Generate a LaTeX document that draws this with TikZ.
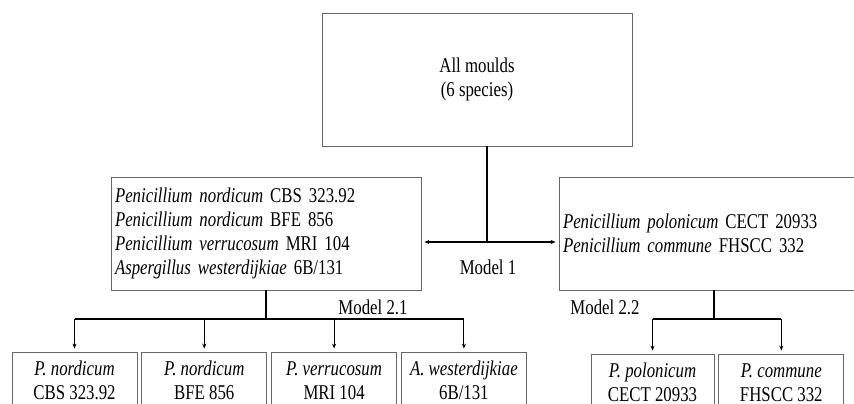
\documentclass[tikz,border=0pt]{standalone}
\usepackage{fontspec}
\setmainfont[FakeStretch=0.8]{Liberation Serif}
\usetikzlibrary{arrows.meta,calc,positioning}

\begin{document}
\begin{tikzpicture}[x=1pt,y=-1pt,
  box/.style={draw=black!60, line width=0.8pt, inner sep=3pt, font=\fontsize{21}{24}\selectfont},
  leaf/.style={box, minimum width=125pt, minimum height=57pt, align=center},
  link/.style={line width=1.1pt},
  arr/.style={link, -{Stealth[length=5pt,width=4pt]}, shorten >=3pt},
  lbl/.style={font=\fontsize{21}{24}\selectfont, inner sep=0pt}]
\useasboundingbox (0,0) rectangle (854,404);
\clip (0,0) rectangle (854,404);

\node[box, minimum width=310pt, minimum height=133pt, align=center] (all) at (477,79.5) {All moulds\\(6 species)};
\node[box, minimum width=310pt, minimum height=113pt, text width=302pt, align=left] (grp1) at (266,233.5) {\textit{Penicillium nordicum} CBS 323.92\\\textit{Penicillium nordicum} BFE 856\\\textit{Penicillium verrucosum} MRI 104\\\textit{Aspergillus westerdijkiae} 6B/131};
\node[box, minimum width=310pt, minimum height=113pt, text width=302pt, align=left] (grp2) at (714,233.5) {\textit{Penicillium polonicum} CECT 20933\\\textit{Penicillium commune} FHSCC 332};

\node[leaf] (nor1) at (74.5,380.5) {\textit{P. nordicum}\\CBS 323.92};
\node[leaf, right=4pt of nor1] (nor2) {\textit{P. nordicum}\\BFE 856};
\node[leaf, right=4pt of nor2] (ver) {\textit{P. verrucosum}\\MRI 104};
\node[leaf, right=4pt of ver] (wes) {\textit{A. westerdijkiae}\\6B/131};
\node[leaf, minimum width=123pt] (pol) at (652.5,382.5) {\textit{P. polonicum}\\CECT 20933};
\node[leaf, right=4pt of pol] (com) {\textit{P. commune}\\FHSCC 332};

\node[lbl] (m1) at (488,267) {Model 1};
\node[lbl] (m21) at (373,307) {Model 2.1};
\node[lbl] (m22) at (605,307) {Model 2.2};

% model 1
\coordinate (split) at (487,242);
\draw[link] (all.south -| split) -- (split);
\draw[arr] (split) -- (grp1.east |- split);
\draw[arr] (split) -- (grp2.west |- split);

% model 2.1
\coordinate (bar1) at (266,319);
\draw[link] (grp1.south) -- (bar1);
\draw[link] (nor1 |- bar1) -- (wes |- bar1);
\foreach \n in {nor1,nor2,ver,wes}
  \draw[arr] (\n |- bar1) -- (\n.north);

% model 2.2
\coordinate (bar2) at (714,319);
\draw[link] (grp2.south) -- (bar2);
\draw[link] (pol |- bar2) -- (com |- bar2);
\foreach \n in {pol,com}
  \draw[arr] (\n |- bar2) -- (\n.north);
\end{tikzpicture}
\end{document}
